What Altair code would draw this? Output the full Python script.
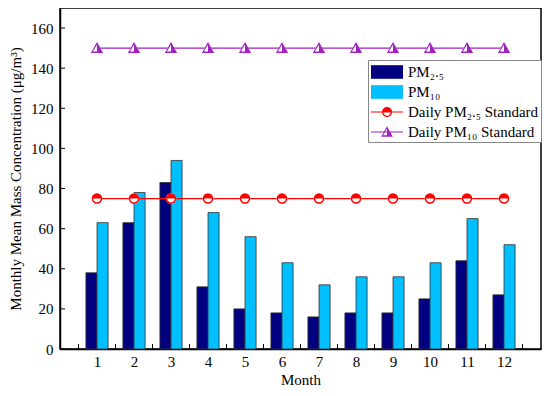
import math
import altair as alt
import pandas as pd

# ---- data ----
months = [1, 2, 3, 4, 5, 6, 7, 8, 9, 10, 11, 12]
pm25 = [38, 63, 83, 31, 20, 18, 16, 18, 18, 25, 44, 27]
pm10 = [63, 78, 94, 68, 56, 43, 32, 36, 36, 43, 65, 52]
std_pm25 = 75
std_pm10 = 150
series_names = ["PM₂.₅", "PM₁₀", "Daily PM₂.₅ Standard", "Daily PM₁₀ Standard"]
y_tick_values = [0, 20, 40, 60, 80, 100, 120, 140, 160]
x_tick_values = [m - 0.5 for m in months] + [12.5]

# ---- styling ----
colors = ["#000080", "#00BFFF", "#FF0000", "#A020C0"]
FONT = "Liberation Serif"
W, H = 481, 341
BAR_W = 0.3


# ---- marker glyph shapes (SVG paths in symbol units) ----
def arc_pts(rad, a0, a1, n=16):
    return [(rad * math.cos(a0 + (a1 - a0) * i / n),
             rad * math.sin(a0 + (a1 - a0) * i / n)) for i in range(n + 1)]


def poly(pts):
    return "M " + " L ".join(f"{x:.3f} {y:.3f}" for x, y in pts) + " Z "


def circle_marker(ro, ri):
    top = poly(arc_pts(ro, math.pi, 2 * math.pi))              # filled top half
    ring = poly(arc_pts(ro, 0, math.pi) + arc_pts(ri, math.pi, 0))  # bottom half ring
    return top + ring


def tri_marker(s, inner=0.55):
    outer = [(0, -s), (s, 0.8 * s), (-s, 0.8 * s)]
    hole = [(0, -s * inner), (-s * 0.68 * inner / 0.55 * 0.55 / 0.55 * 0.55 / 0.55, 0.55 * s),
            (s * 0.68, 0.55 * s)]
    hole = [(0, -0.55 * s), (-0.68 * s, 0.55 * s), (0.68 * s, 0.55 * s)]
    half = [(0, -s), (s, 0.8 * s), (0, 0.8 * s)]
    return poly(outer) + poly(hole) + poly(half)


circ_full = poly(arc_pts(1, 0, 2 * math.pi, 32))
circ_fill = circle_marker(1, 0.72)
tri_full = poly([(0, -1), (1, 0.8), (-1, 0.8)])
tri_fill = tri_marker(1)

# legend symbols: layout box is 20 px (size 400), path scale 10 px per unit
lg_rect = poly([(-1.6, -0.68), (1.6, -0.68), (1.6, 0.68), (-1.6, 0.68)])
lg_line = poly([(-1.6, -0.06), (1.6, -0.06), (1.6, 0.06), (-1.6, 0.06)])
lg_circ = lg_line + circle_marker(0.5, 0.37)
lg_tri = lg_line + tri_marker(0.58)

bars_df = pd.DataFrame({
    "month": months * 2,
    "series": [series_names[0]] * 12 + [series_names[1]] * 12,
    "value": pm25 + pm10,
})
std_df = pd.DataFrame({
    "month": months * 2,
    "series": [series_names[2]] * 12 + [series_names[3]] * 12,
    "value": [std_pm25] * 12 + [std_pm10] * 12,
})
xt_df = pd.DataFrame({"t": x_tick_values})
yt_df = pd.DataFrame({"v": y_tick_values})

xscale = alt.Scale(domain=[0, 13], nice=False, zero=False)
yscale = alt.Scale(domain=[0, 170], nice=False)
xaxis = alt.Axis(title="Month", values=months, format="d", ticks=False,
                 tickSize=0, labelPadding=5, titlePadding=3, grid=False)
yaxis = alt.Axis(title="Monthly Mean Mass Concentration (μg/m³)",
                 values=y_tick_values, ticks=False, tickSize=0,
                 labelPadding=7, titlePadding=7, grid=False)
cscale = alt.Scale(domain=series_names, range=colors)
legend = alt.Legend(title=None, orient="none", legendX=308, legendY=52,
                    symbolSize=400, symbolStrokeWidth=0, rowPadding=2,
                    symbolOffset=7, columnPadding=0,
                    labelFont=FONT, labelFontSize=15, labelColor="black",
                    labelOffset=11, padding=2, strokeColor="#888888",
                    fillColor="white", labelLimit=300)

color_enc = alt.Color("series:N", scale=cscale, legend=legend)

bars = alt.Chart(bars_df).transform_calculate(
    x0=f"datum.series == '{series_names[0]}' ? datum.month - {BAR_W} : datum.month",
    x1=f"datum.series == '{series_names[0]}' ? datum.month : datum.month + {BAR_W}",
).mark_bar(stroke="#333333", strokeWidth=0.8, opacity=1).encode(
    x=alt.X("x0:Q", scale=xscale, axis=xaxis),
    x2="x1:Q",
    y=alt.Y("value:Q", scale=yscale, axis=yaxis),
    y2=alt.datum(0),
    color=color_enc,
)

xticks = alt.Chart(xt_df).mark_rule(color="black", strokeWidth=1).encode(
    x=alt.X("t:Q", scale=xscale, axis=xaxis),
    y=alt.value(H), y2=alt.value(H - 5),
)
yticks = alt.Chart(yt_df).mark_rule(color="black", strokeWidth=1).encode(
    y=alt.Y("v:Q", scale=yscale, axis=yaxis),
    x=alt.value(0), x2=alt.value(5),
)

base_std = alt.Chart(std_df).encode(
    x=alt.X("month:Q", scale=xscale, axis=xaxis),
    y=alt.Y("value:Q", scale=yscale, axis=yaxis),
    color=color_enc,
)
lines = base_std.mark_line(strokeWidth=1.3)

circ_data = base_std.transform_filter(f"datum.series == '{series_names[2]}'")
tri_data = base_std.transform_filter(f"datum.series == '{series_names[3]}'")

circ_bg = circ_data.mark_point(filled=True, shape=circ_full, size=110,
                               opacity=1).encode(color=alt.value("white"))
circ_fg = circ_data.mark_point(filled=True, shape=circ_fill, size=110,
                               opacity=1)
tri_bg = tri_data.mark_point(filled=True, shape=tri_full, size=150,
                             opacity=1).encode(color=alt.value("white"))
tri_fg = tri_data.mark_point(filled=True, shape=tri_fill, size=150,
                             opacity=1)

legend_layer = alt.Chart(std_df).transform_filter("false").mark_point(
    filled=True, opacity=1).encode(
    x=alt.X("month:Q", scale=xscale, axis=xaxis),
    y=alt.Y("value:Q", scale=yscale, axis=yaxis),
    color=color_enc,
    shape=alt.Shape("series:N",
                    scale=alt.Scale(domain=series_names,
                                    range=[lg_rect, lg_rect, lg_circ, lg_tri]),
                    legend=legend),
)

chart = alt.layer(
    bars, xticks, yticks, lines, circ_bg, circ_fg, tri_bg, tri_fg, legend_layer
).properties(
    width=W, height=H,
    background="white",
    autosize=alt.AutoSizeParams(type="none"),
    padding={"left": 52, "top": 0, "right": 1, "bottom": 39},
).configure_view(
    stroke="black", strokeWidth=1.5
).configure_axis(
    labelFont=FONT, titleFont=FONT, labelFontSize=15, titleFontSize=15,
    titleFontWeight="normal", labelColor="black", titleColor="black",
    domainColor="black", domainWidth=1.5,
)

chart.save("out.html", embed_options={"renderer": "svg", "actions": False})
